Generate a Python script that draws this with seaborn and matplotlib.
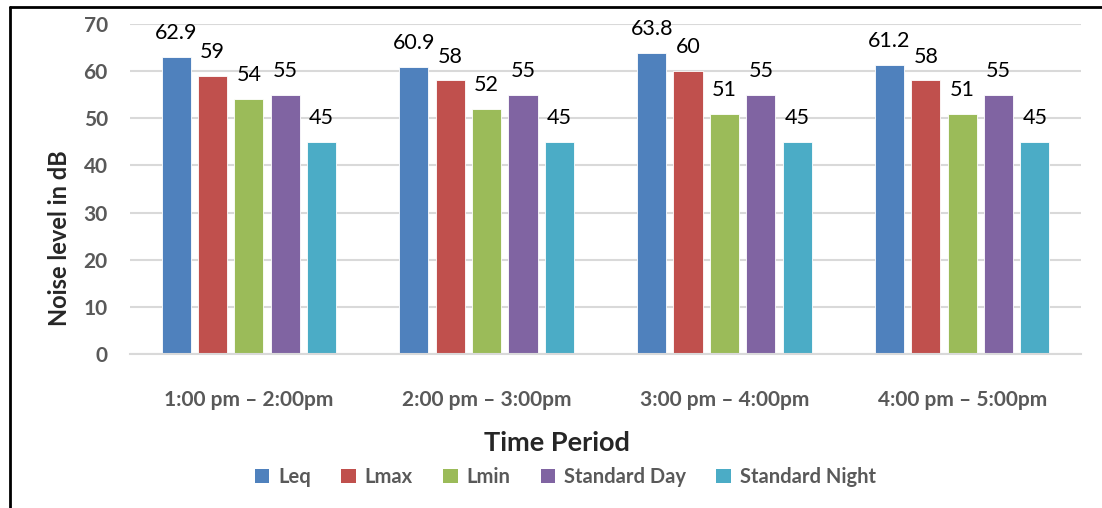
import matplotlib
matplotlib.use("Agg")
import matplotlib.pyplot as plt
from matplotlib.lines import Line2D
from matplotlib.patches import Patch
import seaborn as sns
import pandas as pd

# Measured noise levels per hourly period
periods = ["1:00 pm – 2:00pm", "2:00 pm – 3:00pm", "3:00 pm – 4:00pm", "4:00 pm – 5:00pm"]
series_names = ["Leq", "Lmax", "Lmin", "Standard Day", "Standard Night"]
leq = [62.9, 60.9, 63.8, 61.2]
lmax = [59, 58, 60, 58]
lmin = [54, 52, 51, 51]
standard_day = [55, 55, 55, 55]
standard_night = [45, 45, 45, 45]
colors = ["#4F81BD", "#C0504D", "#9BBB59", "#8064A2", "#4BACC6"]

rows = []
for name, vals in zip(series_names, [leq, lmax, lmin, standard_day, standard_night]):
    for p, v in zip(periods, vals):
        rows.append({"period": p, "series": name, "value": v})
df = pd.DataFrame(rows)

sns.set_theme(style="white")
plt.rcParams["font.family"] = ["Lato", "DejaVu Sans"]

fig = plt.figure(figsize=(11.02, 5.08), dpi=100)
ax = fig.add_axes([0.118, 0.303, 0.863, 0.650])

sns.barplot(data=df, x="period", y="value", hue="series", order=periods,
            hue_order=series_names, palette=colors, width=0.765, gap=0.2,
            saturation=1, errorbar=None, ax=ax, legend=False,
            edgecolor="white", linewidth=0.6)

for cont in ax.containers:
    ax.bar_label(cont, fmt="%g", padding=10, fontsize=15.5, color="black")

ax.set_ylim(0, 70)
ax.set_yticks(range(0, 71, 10))
ax.set_xlim(-0.5, len(periods) - 0.5)
ax.yaxis.grid(True, color="#d9d9d9", linewidth=1.5)
ax.set_axisbelow(True)
for side in ["top", "right", "left"]:
    ax.spines[side].set_visible(False)
ax.spines["bottom"].set_color("#d9d9d9")
ax.spines["bottom"].set_linewidth(1.5)
ax.tick_params(axis="both", length=0, labelsize=15, labelcolor="#595959")
ax.tick_params(axis="x", pad=26)
ax.tick_params(axis="y", pad=16)
for lbl in ax.get_xticklabels() + ax.get_yticklabels():
    lbl.set_fontweight("bold")

ax.set_xlabel("Time Period", fontsize=19.5, fontweight="bold", color="#262626")
ax.xaxis.set_label_coords(0.449, -0.233)
ax.set_ylabel("Noise level in dB", fontsize=17, fontweight="bold", color="#262626")
ax.yaxis.set_label_coords(-0.062, 0.35)

handles = [Patch(facecolor=c, edgecolor="none") for c in colors]
fig.legend(handles, series_names, loc="center", bbox_to_anchor=(0.513, 0.061), ncol=5,
           frameon=False, handlelength=0.72, handleheight=0.72, handletextpad=0.45,
           columnspacing=1.5, prop={"size": 14.5, "weight": "bold"}, labelcolor="#595959")

# Border around the chart area (left and top edges)
fig.add_artist(Line2D([0.0095, 0.0095], [0.0, 0.986], transform=fig.transFigure,
                      color="black", linewidth=2))
fig.add_artist(Line2D([0.0095, 1.0], [0.986, 0.986], transform=fig.transFigure,
                      color="black", linewidth=2))

fig.savefig("out.png", dpi=100, facecolor="white")
